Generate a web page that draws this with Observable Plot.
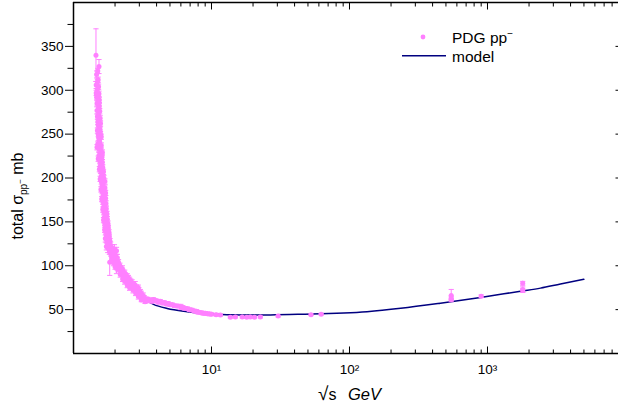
<!DOCTYPE html>
<html><head><meta charset="utf-8">
<script src="https://cdn.jsdelivr.net/npm/d3@7"></script>
<script src="https://cdn.jsdelivr.net/npm/@observablehq/plot@0.6"></script>
<style>html,body{margin:0;padding:0;background:#fff} svg{display:block}</style>
</head><body><div id="chart"></div>
<script>
// PDG p-pbar total cross section (sqrt(s) in GeV, sigma in mb, error in mb)
const pdgSqrtS = [1.455,1.53,1.47,1.51,1.46,1.49,1.53,1.47,1.50,1.54,1.48,1.52,1.56,1.50,1.54,1.49,1.57,1.52,1.55,1.59,
  1.48,1.53,1.57,1.61,1.51,1.55,1.59,1.63,1.54,1.57,1.61,1.66,1.56,1.59,1.63,1.69,1.58,1.61,1.65,1.71,
  1.60,1.63,1.68,1.73,1.63,1.66,1.70,1.76,1.65,1.68,1.73,1.79,1.68,1.71,1.76,1.82,1.70,1.74,1.79,1.86,
  1.73,1.77,1.83,1.88,1.94,1.98,2.05,1.82,2.02,1.90,2.08,1.96,2.12,2.02,2.05,2.17,2.10,2.26,2.22,2.35,
  2.30,2.45,2.40,2.55,2.50,2.66,2.62,2.80,2.75,2.95,2.88,3.05,3.00,3.20,3.15,3.35,3.30,3.50,3.70,3.90,
  4.10,4.40,4.70,5.00,5.40,6.00,6.40,6.90,7.50,8.00,8.70,9.30,10.0,10.8,11.6,13.7,14.9,16.7,18.0,19.1,
  20.5,22.6,30.4,52.6,62.3,546,546,546,900,1800,1800,1800,
  1.50,1.49,1.52,1.46,1.51,1.54,1.48,1.52,1.55,1.49,
  1.53,1.57,1.51,1.56,1.51,1.59,1.54,1.50,1.58,1.62,
  1.53,1.57,1.62,1.56,1.65,1.59,1.69,1.61,1.66,1.71,
  1.63,1.67,1.72,1.65,1.70,1.75,1.67,1.72,1.78,1.70,
  1.75,1.81,1.73,1.78,1.84,1.76,1.81,1.90,1.86,1.93,
  2.00,1.95,2.06,2.14,2.00,2.20,2.28,2.18,2.38,2.27,
  2.50,2.35,2.60,2.45,2.72,2.55,2.86,2.70,2.98,2.82,
  3.10,2.95,3.25,3.10,3.45,3.6,3.8,4.0,4.25,4.55,
  4.85,5.2,5.7,6.2,6.7,7.2,7.8,8.4,9.0,9.7];
const pdgSigma = [340,327,318,312,306,301,296,292,287,282,277,272,268,264,258,254,250,246,241,237,
  235,233,228,224,222,220,216,212,210,208,204,200,199,196,193,189,187,185,181,177,
  176,173,169,165,164,161,157,153,152,149,146,143,141,139,136,133,131,129,126,123,
  122,120,104,118,115,119,117,116,112,110,109,106,104,101,97,100,96,97,92,92,
  88,88,84,84,80,81,77,78,74,75,71,70,67,66,63,62,59,60,59.5,60,
  58.5,57.5,56.5,55.5,54.5,53,51.5,50,48.5,47,46,45.3,44.8,44.3,43.8,41.3,41.6,41.5,41.2,41.6,
  41.4,41.7,42.6,44.2,44.8,61.5,63.5,66,65.3,71.7,72.8,80.0,
  322,309,304,297,294,289,285,280,276,270,
  266,262,260,255,250,247,243,239,232,229,
  226,218,218,213,207,202,196,191,186,183,
  179,175,171,167,163,159,155,151,148,144,
  141,138,134,131,128,124,121,120,114,110,
  108,103,103,99,99,95,93,90,89,85,
  86,82,82,78,78,75,75,72,72,69,
  68,65,64,61,62,61,61.5,60,59.5,58,
  57,55.5,54,52.5,51,49.5,48,46.5,45.8,45];
const pdgErr = [30,8,4,3,4,3,3,3,3,3,4,3,3,3,3,3,3,3,3,3,
  3,3,3,3,3,3,3,3,3,3,3,3,3,3,3,3,3,3,3,3,
  3,3,3,3,3,3,3,3,3,3,3,3,3,3,3,3,4,3,4,4,
  4,5,15,4,5,5,4,3,4,3,4,3,3,3,6,3,3,3,3,3,
  3,3,3,3,3,3,3,4,3,3,3,3,3,3,2,2,2,2,2,2,
  2,2,2,2,2,3,2,2,2,2,2,2,1.5,1.5,1,1,1,1,1,1,
  1,1,1,1,1,1,2,7,1.5,2.0,3.1,2.2,
  3,3,3,3,3,3,3,3,3,3,
  3,3,3,3,3,3,3,3,3,3,
  3,3,3,3,3,3,3,3,3,3,
  3,3,3,3,3,3,3,3,3,3,
  3,3,3,3,3,3,3,4,3,3,
  3,3,3,3,3,3,3,3,3,3,
  3,3,3,3,3,3,3,3,3,3,
  3,3,2,2,2,2,2,2,2,2,
  2,2,2,2,2,2,2,2,2,2];

// model curve
const modelSqrtS = [1.95,2.07,2.3,2.59,3.06,3.8,4.77,6.67,10,16.7,26.8,44.2,134,235,456,890,1735,2420,3380,4990];
const modelSigma = [118,103.3,87.7,75.9,64.9,56.0,51.3,47.7,45.0,43.9,44.0,44.7,47.7,51.5,57.3,63.8,71.0,74.5,79.2,84.5];

// axes
const yTicks = [50,100,150,200,250,300,350];
const yMinorTicks = [25,75,125,175,225,275,325,375];
const xMajorTicks = [10,100,1000];
const xTickLabels = ["10¹","10²","10³"];
const xMinorTicks = [2,3,4,5,6,7,8,9,20,30,40,50,60,70,80,90,200,300,400,500,600,700,800,900,2000,3000,4000,5000,6000,7000,8000];

const pink = "#ff80ff";
const navy = "#000080";

const pdg = pdgSqrtS.map((s, i) => ({s, sigma: pdgSigma[i], err: pdgErr[i]}));
const model = modelSqrtS.map((s, i) => ({s, sigma: modelSigma[i]}));
const withErr = pdg.filter(d => d.err > 0);
const capSymbol = {draw(ctx) { ctx.moveTo(-2.6, 0); ctx.lineTo(2.6, 0); }};

const chart = Plot.plot({
  width: 618, height: 412,
  marginLeft: 73, marginRight: 0, marginTop: 2, marginBottom: 59,
  style: {fontFamily: "'Liberation Sans', Arial, sans-serif", background: "white", color: "black"},
  x: {type: "log", domain: [1, 8899], axis: null},
  y: {domain: [0, 400], axis: null},
  marks: [
    Plot.line(model, {x: "s", y: "sigma", stroke: navy, strokeWidth: 1.5, curve: "monotone-x"}),
    Plot.ruleX(withErr, {x: "s", y1: d => d.sigma - d.err, y2: d => d.sigma + d.err, stroke: pink, strokeWidth: 1}),
    Plot.dot(withErr, {x: "s", y: d => d.sigma + d.err, symbol: capSymbol, stroke: pink, strokeWidth: 1, fill: "none"}),
    Plot.dot(withErr, {x: "s", y: d => d.sigma - d.err, symbol: capSymbol, stroke: pink, strokeWidth: 1, fill: "none"}),
    Plot.dot(pdg, {x: "s", y: "sigma", r: 2.5, fill: pink, stroke: "none"}),
    Plot.ruleX([1], {stroke: "black", strokeWidth: 1.5}),
    Plot.ruleY([0], {stroke: "black", strokeWidth: 1.5}),
    Plot.ruleY([400], {stroke: "black", strokeWidth: 1.5}),
    Plot.axisY({ticks: yTicks, tickSize: 8, tickPadding: 2, fontSize: 13.5, label: null, tickFormat: d => String(d)}),
    Plot.axisY({ticks: yMinorTicks, tickSize: 5.5, tickFormat: () => "", label: null}),
    Plot.axisY({anchor: "right", ticks: yTicks, tickSize: -3.5, tickFormat: () => "", label: null}),
    Plot.axisX({ticks: xMajorTicks, tickSize: -6.5, tickFormat: () => "", label: null}),
    Plot.axisX({ticks: xMinorTicks, tickSize: -3.5, tickFormat: () => "", label: null}),
    Plot.axisX({anchor: "top", ticks: xMajorTicks, tickSize: -6.5, tickFormat: () => "", label: null}),
    Plot.axisX({anchor: "top", ticks: xMinorTicks, tickSize: -3.5, tickFormat: () => "", label: null}),
    Plot.text(xMajorTicks, {x: d => d, text: (d, i) => xTickLabels[i], frameAnchor: "bottom", dy: 16.5, lineAnchor: "middle", fontSize: 13.5, fill: "black"})
  ]
});

document.getElementById("chart").appendChild(chart);
const svg = d3.select(chart);
const font = "'Liberation Sans', Arial, sans-serif";

// y-axis title
const yl = svg.append("text").attr("transform", "translate(23,196) rotate(-90)")
  .attr("text-anchor", "middle").attr("font-family", font).attr("font-size", 16).attr("fill", "black");
yl.append("tspan").text("total σ");
yl.append("tspan").attr("dy", 4).attr("font-size", 10).text("pp");
yl.append("tspan").attr("dy", -4).attr("font-size", 8).text("−");
yl.append("tspan").attr("dy", 0).text(" mb");

// x-axis title
const xl = svg.append("text").attr("x", 318).attr("y", 400).attr("text-anchor", "start").attr("font-family", font).attr("font-size", 16).attr("fill", "black");
xl.append("tspan").attr("font-size", 19).text("√");
xl.append("tspan").text("s");
svg.append("text").attr("x", 348).attr("y", 400).attr("text-anchor", "start").attr("font-family", font).attr("font-size", 16.5).attr("font-style", "italic").attr("fill", "black").text("GeV");

// legend
svg.append("circle").attr("cx", 423).attr("cy", 37).attr("r", 2.4).attr("fill", pink);
const l1 = svg.append("text").attr("x", 452).attr("y", 42.7).attr("text-anchor", "start").attr("font-family", font).attr("font-size", 15.5).attr("fill", "black");
l1.append("tspan").text("PDG pp");
l1.append("tspan").attr("dy", -6).attr("font-size", 10).text("−");
svg.append("line").attr("x1", 402).attr("x2", 446).attr("y1", 55.7).attr("y2", 55.7).attr("stroke", navy).attr("stroke-width", 1.5);
svg.append("text").attr("x", 452).attr("y", 61.7).attr("text-anchor", "start").attr("font-family", font).attr("font-size", 15.5).attr("fill", "black").text("model");
</script>
</body></html>
